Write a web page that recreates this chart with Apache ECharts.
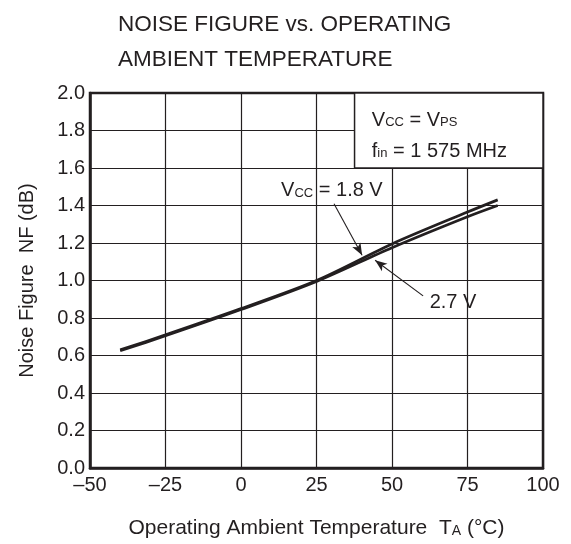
<!DOCTYPE html>
<html><head><meta charset="utf-8">
<script src="https://cdn.jsdelivr.net/npm/echarts@6/dist/echarts.min.js"></script>
<style>html,body{margin:0;padding:0;background:#fff}#c{width:571px;height:544px}</style>
</head><body><div id="c"></div>
<script>
const temps = [-40, -25, 0, 25, 50, 75, 85];
const nf18 = [0.63, 0.71, 0.85, 1.0, 1.195, 1.365, 1.43];
const nf27 = [0.625, 0.705, 0.845, 0.995, 1.175, 1.34, 1.40];
const xTicks = [-50, -25, 0, 25, 50, 75, 100];
const yTicks = [0.0, 0.2, 0.4, 0.6, 0.8, 1.0, 1.2, 1.4, 1.6, 1.8, 2.0];
const titleLines = ['NOISE FIGURE vs. OPERATING', 'AMBIENT TEMPERATURE'];
// annotation anchors in data units
const label18 = [30.1, 1.478], arrow18 = [[30.8, 1.409], [40.1, 1.135]];
const label27 = [70.2, 0.881], arrow27 = [[60.3, 0.918], [44.4, 1.108]];
const condBox = [[37.6, 1.6], [100, 2.0]];

const FONT = '"Liberation Sans", Arial, Helvetica, sans-serif';
const INK = '#231f20';
const chart = echarts.init(document.getElementById('c'), null, {renderer: 'canvas'});
const pair = (a, b) => a.map((v, i) => [v, b[i]]);
const sub = {fontSize: 13, fontFamily: FONT, color: INK, verticalAlign: 'bottom', padding: [0, 0, 1, 0]};
const main = {fontSize: 20, fontFamily: FONT, color: INK, verticalAlign: 'bottom'};

chart.setOption({
  animation: false,
  title: {
    text: titleLines.join('\n'), left: 113, top: 2,
    textStyle: {fontSize: 22.5, fontWeight: 'normal', fontFamily: FONT, color: INK, lineHeight: 35}
  },
  grid: {left: 90, right: 28, top: 93, bottom: 72, show: true, borderColor: INK, borderWidth: 2.5, backgroundColor: 'transparent'},
  xAxis: {
    type: 'value', min: xTicks[0], max: xTicks[xTicks.length - 1], interval: 25,
    name: '{m|Operating Ambient Temperature  T}{s|A}{m| (°C)}',
    nameLocation: 'middle', nameGap: 50,
    nameTextStyle: {rich: {m: {fontSize: 21, fontFamily: FONT, color: INK, verticalAlign: 'bottom'}, s: {fontSize: 14, fontFamily: FONT, color: INK, verticalAlign: 'bottom', padding: [0, 0, 1, 0]}}},
    axisLine: {show: true, onZero: false, lineStyle: {color: INK, width: 2.5}},
    axisTick: {show: false},
    axisLabel: {fontSize: 20, fontFamily: FONT, color: INK, margin: 7, formatter: v => String(v).replace('-', '\u2013')},
    splitLine: {show: true, lineStyle: {color: INK, width: 1.2}}
  },
  yAxis: {
    type: 'value', min: yTicks[0], max: yTicks[yTicks.length - 1], interval: 0.2,
    name: 'Noise Figure  NF (dB)', nameLocation: 'middle', nameGap: 53, nameRotate: 90,
    nameTextStyle: {fontSize: 20, fontFamily: FONT, color: INK},
    axisLine: {show: true, onZero: false, lineStyle: {color: INK, width: 2.5}},
    axisTick: {show: false},
    axisLabel: {fontSize: 20, fontFamily: FONT, color: INK, margin: 5, formatter: v => v.toFixed(1)},
    splitLine: {show: true, lineStyle: {color: INK, width: 1.2}}
  },
  series: [
    {
      name: 'VCC = 1.8 V', type: 'line', data: pair(temps, nf18), smooth: 0.3, showSymbol: false,
      lineStyle: {color: INK, width: 2.7}, z: 3,
      markArea: {
        silent: true,
        itemStyle: {color: '#fff', borderColor: INK, borderWidth: 1.5},
        label: {
          show: true, position: 'insideTopLeft', distance: 0, padding: [7, 0, 0, 18], lineHeight: 31,
          formatter: '{m|V}{s|CC}{m| = V}{s|PS}\n{m|f}{s|in}{m| = 1 575 MHz}',
          rich: {m: main, s: sub}
        },
        data: [[{coord: condBox[0]}, {coord: condBox[1]}]]
      },
      markLine: {
        silent: true, symbol: ['none', 'arrow'], symbolSize: [7, 12],
        lineStyle: {color: INK, width: 1.1, type: 'solid'},
        label: {show: false},
        data: [[{coord: arrow18[0]}, {coord: arrow18[1]}]]
      },
      markPoint: {
        silent: true, symbol: 'rect', symbolSize: 1, itemStyle: {color: 'transparent'},
        label: {show: true, position: 'inside', formatter: '{m|V}{s|CC}{m| = 1.8 V}', rich: {m: main, s: sub}},
        data: [{coord: label18}]
      }
    },
    {
      name: '2.7 V', type: 'line', data: pair(temps, nf27), smooth: 0.3, showSymbol: false,
      lineStyle: {color: INK, width: 2.7}, z: 3,
      markLine: {
        silent: true, symbol: ['none', 'arrow'], symbolSize: [7, 12],
        lineStyle: {color: INK, width: 1.1, type: 'solid'},
        label: {show: false},
        data: [[{coord: arrow27[0]}, {coord: arrow27[1]}]]
      },
      markPoint: {
        silent: true, symbol: 'rect', symbolSize: 1, itemStyle: {color: 'transparent'},
        label: {show: true, position: 'inside', formatter: '{m|2.7 V}', rich: {m: main}},
        data: [{coord: label27}]
      }
    }
  ]
});
</script></body></html>
